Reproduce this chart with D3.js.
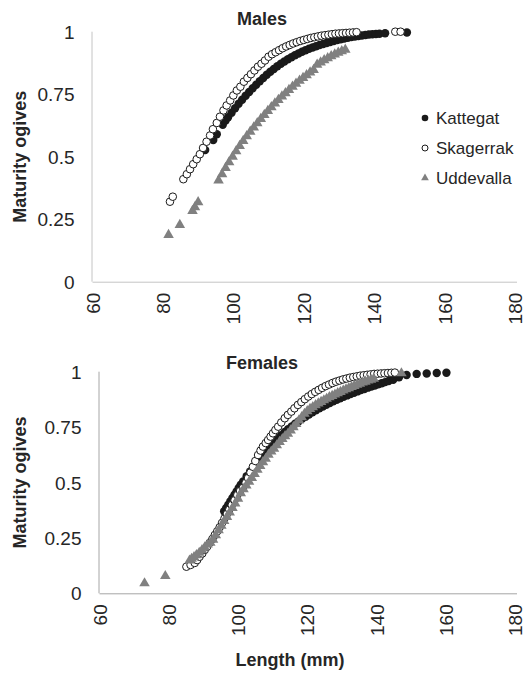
<!doctype html>
<html>
<head>
<meta charset="utf-8"/>
<title>Maturity ogives</title>
<script src="https://d3js.org/d3.v7.min.js"></script>
<style>
body{margin:0;background:#fff;}
text{font-family:"Liberation Sans",Arial,sans-serif;fill:#262626;}
</style>
</head>
<body>
<script type="text/javascript">
// axis ticks
var xTicks = [60, 80, 100, 120, 140, 160, 180];
var yTicks = [0, 0.25, 0.5, 0.75, 1];
var seriesNames = ["Kattegat", "Skagerrak", "Uddevalla"];

// Males - length (mm) and maturity ogive
var mKatL = [92.0,94.3,95.3,97.0,97.8,98.5,99.5,100.5,101.5,102.5,103.5,104.5,105.5,106.5,107.5,108.5,109.5,110.5,111.5,112.5,113.5,114.5,115.5,116.5,117.5,118.5,119.5,120.5,121.5,122.5,123.5,124.5,125.5,126.5,127.5,128.5,129.5,130.5,131.5,132.5,133.5,134.5,135.5,136.5,137.5,138.5,139.5,140.5,141.5,143.1,149.3];
var mKatP = [0.527,0.567,0.59,0.628,0.645,0.658,0.676,0.694,0.712,0.728,0.744,0.759,0.774,0.788,0.802,0.815,0.828,0.84,0.851,0.862,0.872,0.881,0.89,0.898,0.906,0.913,0.92,0.926,0.932,0.937,0.942,0.947,0.951,0.955,0.959,0.963,0.967,0.97,0.973,0.976,0.979,0.981,0.983,0.985,0.987,0.989,0.99,0.991,0.992,0.994,0.997];

var mSkaL = [82.0,82.8,85.8,86.8,87.7,88.6,89.6,90.5,91.4,92.4,93.4,94.2,95.3,96.2,97.2,98.1,99.1,100,101,102,103,104,105,106,107,108,109,110,111,112,113,114,115,116,117,118,119,120,121,122,123,124,125,126,127,128,129,130,131,132,133,134,135,146,147.5];
var mSkaP = [0.32,0.34,0.41,0.43,0.45,0.47,0.49,0.51,0.535,0.56,0.585,0.61,0.635,0.66,0.685,0.705,0.725,0.745,0.765,0.78,0.80,0.815,0.83,0.845,0.86,0.872,0.885,0.9,0.91,0.918,0.926,0.934,0.941,0.947,0.953,0.958,0.963,0.967,0.971,0.975,0.978,0.981,0.984,0.986,0.988,0.99,0.992,0.993,0.994,0.995,0.996,0.997,0.998,1.0,1.0];

var mUddL = [81.6,84.8,88.4,89.1,90.0,95.8,96.8,97.8,98.8,99.8,100.8,101.8,102.8,103.8,104.8,105.8,106.8,107.8,108.8,109.8,110.8,111.8,112.8,113.8,114.8,115.8,116.8,117.8,118.8,119.8,120.8,121.8,122.8,123.8,124.8,125.8,126.8,127.8,128.8,129.8,130.8,131.8];
var mUddP = [0.187,0.227,0.283,0.298,0.318,0.405,0.43,0.455,0.478,0.50,0.522,0.543,0.563,0.582,0.600,0.617,0.634,0.651,0.667,0.683,0.698,0.713,0.727,0.741,0.754,0.767,0.78,0.792,0.804,0.815,0.826,0.837,0.847,0.868,0.877,0.886,0.894,0.902,0.909,0.916,0.922,0.928];

// Females
var fKatL = [96.0,96.6,97.2,97.8,98.4,99.0,99.6,100.2,100.8,101.5,102.5,103.5,104.5,105.5,106.5,107.5,108.5,109.5,110.5,111.5,112.5,113.5,114.5,115.5,116.5,117.5,118.5,119.5,120.5,121.5,122.5,123.5,124.5,125.5,126.5,127.5,128.5,129.5,130.5,131.5,132.5,133.5,134.5,135.5,136.5,137.5,138.5,139.5,140.5,141.5,142.5,143.5,144.8,146.5,148.7,151.6,154.5,157.4,160.2];
var fKatP = [0.37,0.385,0.40,0.415,0.43,0.445,0.46,0.475,0.49,0.505,0.528,0.55,0.572,0.593,0.614,0.633,0.651,0.668,0.684,0.699,0.714,0.728,0.741,0.753,0.765,0.776,0.787,0.797,0.807,0.817,0.826,0.835,0.843,0.851,0.859,0.866,0.873,0.88,0.887,0.893,0.899,0.905,0.911,0.917,0.922,0.928,0.933,0.938,0.943,0.948,0.953,0.958,0.963,0.975,0.985,0.99,0.992,0.994,0.995];

var fSkaL = [85.1,86.3,87.5,88.2,88.9,89.7,90.4,91.1,91.8,92.6,93.3,94.0,94.7,95.4,96.1,96.8,97.5,98.2,99.0,99.8,100.6,101.4,102.2,102.9,103.6,104.3,105.0,105.8,106.5,107.2,108.0,108.7,109.4,110.1,110.8,111.6,112.5,113.5,114.4,115.4,116.3,117.3,118.3,119.3,120.3,121.3,122.3,123.3,124.3,125.3,126.3,127.3,128.3,129.3,130.3,131.3,132.3,133.3,134.3,135.3,136.3,137.3,138.3,139.3,140.3,141.3,142.3,143.3,144.3,145.3];
var fSkaP = [0.12,0.128,0.137,0.15,0.165,0.18,0.196,0.211,0.227,0.245,0.263,0.28,0.298,0.318,0.338,0.358,0.378,0.398,0.42,0.443,0.462,0.475,0.498,0.52,0.545,0.571,0.597,0.624,0.644,0.662,0.678,0.692,0.707,0.722,0.737,0.752,0.771,0.79,0.805,0.82,0.835,0.85,0.863,0.876,0.888,0.899,0.909,0.918,0.927,0.935,0.942,0.949,0.955,0.96,0.965,0.969,0.973,0.976,0.979,0.982,0.984,0.986,0.988,0.99,0.991,0.992,0.993,0.994,0.995,0.996];

var fUddL = [73.0,79.0,86.0,86.6,87.3,88.0,88.8,89.6,90.4,91.2,92.0,92.8,93.6,94.4,95.2,96.0,96.8,97.6,98.4,99.2,100.0,100.8,101.6,102.4,103.2,104.0,104.8,105.6,106.4,107.2,108.0,108.8,109.6,110.4,111.2,112.0,112.8,113.6,114.4,115.2,116.0,116.8,117.6,118.4,119.2,120.0,120.8,121.6,122.4,123.2,124.0,124.8,125.6,126.4,127.2,128.0,128.8,129.6,130.4,131.2,132.0,132.8,133.6,134.4,135.2,136.0,136.8,137.6,138.4,139.2,147.2];
var fUddP = [0.045,0.078,0.148,0.156,0.163,0.172,0.183,0.195,0.207,0.22,0.228,0.242,0.262,0.285,0.305,0.326,0.345,0.365,0.385,0.405,0.427,0.452,0.47,0.487,0.503,0.52,0.538,0.558,0.575,0.592,0.607,0.625,0.64,0.653,0.668,0.683,0.696,0.709,0.72,0.735,0.75,0.764,0.78,0.795,0.81,0.822,0.832,0.84,0.849,0.857,0.864,0.871,0.878,0.885,0.891,0.897,0.903,0.909,0.915,0.921,0.926,0.931,0.936,0.941,0.946,0.951,0.955,0.96,0.964,0.968,0.993];

var svg = d3.select("body").append("svg")
  .attr("width", 528)
  .attr("height", 673);

var triangle = d3.symbol().type(d3.symbolTriangle).size(48);

function panel(title, titleY, x0, x1, y0, y1, axisColor, series, xTitle) {
  var x = d3.scaleLinear().domain([60, 180]).range([x0, x1]);
  var y = d3.scaleLinear().domain([0, 1]).range([y0, y1]);
  var g = svg.append("g");

  // axes
  var ax = g.append("g").attr("transform", "translate(0," + y0 + ")")
    .call(d3.axisBottom(x).tickValues(xTicks).tickSize(0).tickPadding(0).tickFormat(d3.format("d")));
  ax.select(".domain").attr("stroke", axisColor).attr("d", "M" + x0 + ",0.5H" + (x1 + 2));
  ax.selectAll("text")
    .attr("transform", "rotate(-90)")
    .attr("x", -11).attr("y", 0).attr("dy", "0.35em")
    .attr("text-anchor", "end")
    .style("font-size", "19px").style("font-family", "Liberation Sans, Arial, sans-serif").attr("fill", "#262626");

  var ay = g.append("g").attr("transform", "translate(" + x0 + ",0)")
    .call(d3.axisLeft(y).tickValues(yTicks).tickSize(0).tickPadding(18).tickFormat(function(d){return String(d);}));
  ay.select(".domain").attr("stroke", axisColor).attr("d", "M-0.5," + y0 + "V" + y1);
  ay.selectAll("text")
    .attr("dy", "0.35em")
    .style("font-size", "19px").style("font-family", "Liberation Sans, Arial, sans-serif").attr("fill", "#262626");

  g.append("text").attr("x", 262).attr("y", titleY)
    .attr("text-anchor", "middle").style("font-size", "18px").style("font-weight", "bold")
    .text(title);

  g.append("text")
    .attr("transform", "translate(26," + ((y0 + y1) / 2) + ") rotate(-90)")
    .attr("text-anchor", "middle").style("font-size", "18px").style("font-weight", "bold")
    .text("Maturity ogives");

  if (xTitle) {
    g.append("text").attr("x", 290).attr("y", 666)
      .attr("text-anchor", "middle").style("font-size", "18px").style("font-weight", "bold")
      .text(xTitle);
  }

  // Kattegat
  g.append("g").selectAll("circle").data(series[0].L).enter().append("circle")
    .attr("cx", function(d){return x(d);})
    .attr("cy", function(d,i){return y(series[0].P[i]);})
    .attr("r", 4.2)
    .attr("fill", "#1a1a1a");
  // Skagerrak
  g.append("g").selectAll("circle").data(series[1].L).enter().append("circle")
    .attr("cx", function(d){return x(d);})
    .attr("cy", function(d,i){return y(series[1].P[i]);})
    .attr("r", 3.8)
    .attr("fill", "#fff").attr("stroke", "#1a1a1a").attr("stroke-width", 1);
  // Uddevalla
  g.append("g").selectAll("path").data(series[2].L).enter().append("path")
    .attr("d", triangle)
    .attr("transform", function(d,i){return "translate(" + x(d) + "," + y(series[2].P[i]) + ")";})
    .attr("fill", "#808080");
}

panel("Males", 25, 92.5, 515, 281.7, 31.7, "#c4c4c4",
  [{L: mKatL, P: mKatP}, {L: mSkaL, P: mSkaP}, {L: mUddL, P: mUddP}], null);
panel("Females", 369, 99.5, 515, 593.3, 371.7, "#a6a6a6",
  [{L: fKatL, P: fKatP}, {L: fSkaL, P: fSkaP}, {L: fUddL, P: fUddP}], "Length (mm)");

// legend (males panel only)
var legY = [118, 148, 178];
var leg = svg.append("g").selectAll("g").data(seriesNames).enter().append("g")
  .attr("transform", function(d,i){return "translate(425," + legY[i] + ")";});
leg.filter(function(d,i){return i == 0;}).append("circle").attr("r", 3.3).attr("fill", "#1a1a1a");
leg.filter(function(d,i){return i == 1;}).append("circle").attr("r", 3).attr("fill", "#fff").attr("stroke", "#1a1a1a");
leg.filter(function(d,i){return i == 2;}).append("path").attr("d", d3.symbol().type(d3.symbolTriangle).size(26)).attr("fill", "#808080");
leg.append("text").attr("x", 11).attr("dy", "0.35em").style("font-size", "17px").text(function(d){return d;});
</script>
</body>
</html>
